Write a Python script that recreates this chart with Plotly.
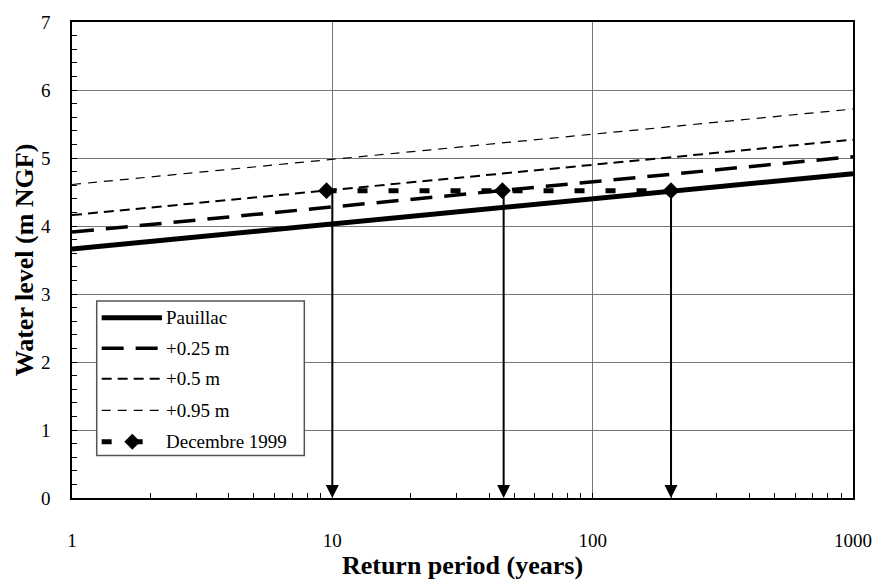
import math
import plotly.graph_objects as go

# Return periods (years) and water levels (m NGF)
return_periods = [1, 10, 100, 1000]
pauillac = [3.66, 4.03, 4.41, 4.77]
plus_025 = [3.91, 4.28, 4.66, 5.02]
plus_050 = [4.16, 4.53, 4.91, 5.27]
plus_095 = [4.61, 4.98, 5.36, 5.72]

# December 1999 storm level and its equivalent return periods
dec1999_periods = [9.5, 45, 200]
dec1999_levels = [4.52, 4.52, 4.52]
arrow_periods = [10, 45.5, 200]

x_tick_vals = [1, 10, 100, 1000]
x_tick_text = ["1", "10", "100", "1000"]
y_tick_vals = [0, 1, 2, 3, 4, 5, 6, 7]

series_names = ["Pauillac", "+0.25 m", "+0.5 m", "+0.95 m", "Decembre 1999"]

FONT = "Liberation Serif"

styles = [
    dict(width=5, dash="solid"),
    dict(width=3.5, dash="22px,12px"),
    dict(width=2, dash="10px,6px"),
    dict(width=1.2, dash="9px,7px"),
    dict(width=5, dash="10px,21px"),
]

fig = go.Figure()
for name, vals, st in zip(series_names[:4], [pauillac, plus_025, plus_050, plus_095], styles[:4]):
    fig.add_trace(go.Scatter(
        x=return_periods, y=vals, mode="lines", name=name,
        line=dict(color="black", width=st["width"], dash=st["dash"]),
        showlegend=False,
    ))

fig.add_trace(go.Scatter(
    x=dec1999_periods, y=dec1999_levels, mode="lines+markers", name=series_names[4],
    line=dict(color="black", width=styles[4]["width"], dash=styles[4]["dash"]),
    marker=dict(symbol="diamond", size=13, color="black"),
    showlegend=False,
))

# Arrows from the storm level down to the return-period axis
for xp, lvl in zip(arrow_periods, dec1999_levels):
    fig.add_annotation(
        x=math.log10(xp), y=0, ax=math.log10(xp), ay=lvl,
        xref="x", yref="y", axref="x", ayref="y",
        text="", showarrow=True, arrowhead=2, arrowsize=1.3,
        arrowwidth=2, arrowcolor="black", standoff=0,
    )

# Plot-area geometry in pixels (for the hand-built legend)
L, R, T, B = 72, 862, 17, 500
W, H = R - L, B - T


def px(xp):
    return (xp - L) / W


def py(yp):
    return (B - yp) / H


shapes = []
annotations = []
# legend frame
shapes.append(dict(type="rect", xref="paper", yref="paper",
                   x0=px(97), x1=px(307), y0=py(457), y1=py(300),
                   line=dict(color="#555", width=1.5), fillcolor="white", layer="above"))
row_y = [317, 348, 379, 411, 443]
for name, st, yy in zip(series_names, styles, row_y):
    shapes.append(dict(type="line", xref="paper", yref="paper",
                       x0=px(102), x1=px(163), y0=py(yy), y1=py(yy),
                       line=dict(color="black", width=st["width"], dash=st["dash"]),
                       layer="above"))
    annotations.append(dict(x=px(165), y=py(yy), xref="paper", yref="paper",
                            text=name, showarrow=False, xanchor="left", yanchor="middle",
                            font=dict(family=FONT, size=19, color="black")))
# diamond symbol for the December 1999 entry
shapes.append(dict(type="path", xref="paper", yref="paper",
                   xsizemode="pixel", ysizemode="pixel",
                   xanchor=px(133), yanchor=py(row_y[4]),
                   path="M-8,0 L0,8 L8,0 L0,-8 Z",
                   fillcolor="black", line=dict(color="black", width=0), layer="above"))

for a in annotations:
    fig.add_annotation(**a)

fig.update_layout(
    width=884, height=587,
    margin=dict(l=L, r=884 - R, t=T, b=587 - B),
    paper_bgcolor="white", plot_bgcolor="white",
    font=dict(family=FONT, size=19, color="black"),
    shapes=shapes,
    showlegend=False,
)

fig.update_xaxes(
    type="log", range=[0, 3],
    tickvals=x_tick_vals, ticktext=x_tick_text,
    ticks="inside", ticklen=5, tickcolor="black",
    minor=dict(dtick="D1", ticks="inside", ticklen=5, tickcolor="black", showgrid=False),
    showgrid=True, gridcolor="#777", gridwidth=1,
    showline=True, linecolor="black", linewidth=1.5, mirror=True,
    zeroline=False, ticklabelstandoff=24,
    tickfont=dict(family=FONT, size=19, color="black"),
    title=dict(text="<b>Return period (years)</b>", font=dict(family=FONT, size=26, color="black"), standoff=6),
)
fig.update_yaxes(
    range=[0, 7], tickvals=y_tick_vals,
    ticks="inside", ticklen=5, tickcolor="black",
    minor=dict(dtick=0.2, ticks="inside", ticklen=5, tickcolor="black", showgrid=False),
    showgrid=True, gridcolor="#777", gridwidth=1,
    showline=True, linecolor="black", linewidth=1.5, mirror=True,
    zeroline=False, ticklabelstandoff=16,
    tickfont=dict(family=FONT, size=19, color="black"),
    title=dict(text="<b>Water level (m NGF)</b>", font=dict(family=FONT, size=26, color="black"), standoff=0),
)

fig.write_html("out.html")
